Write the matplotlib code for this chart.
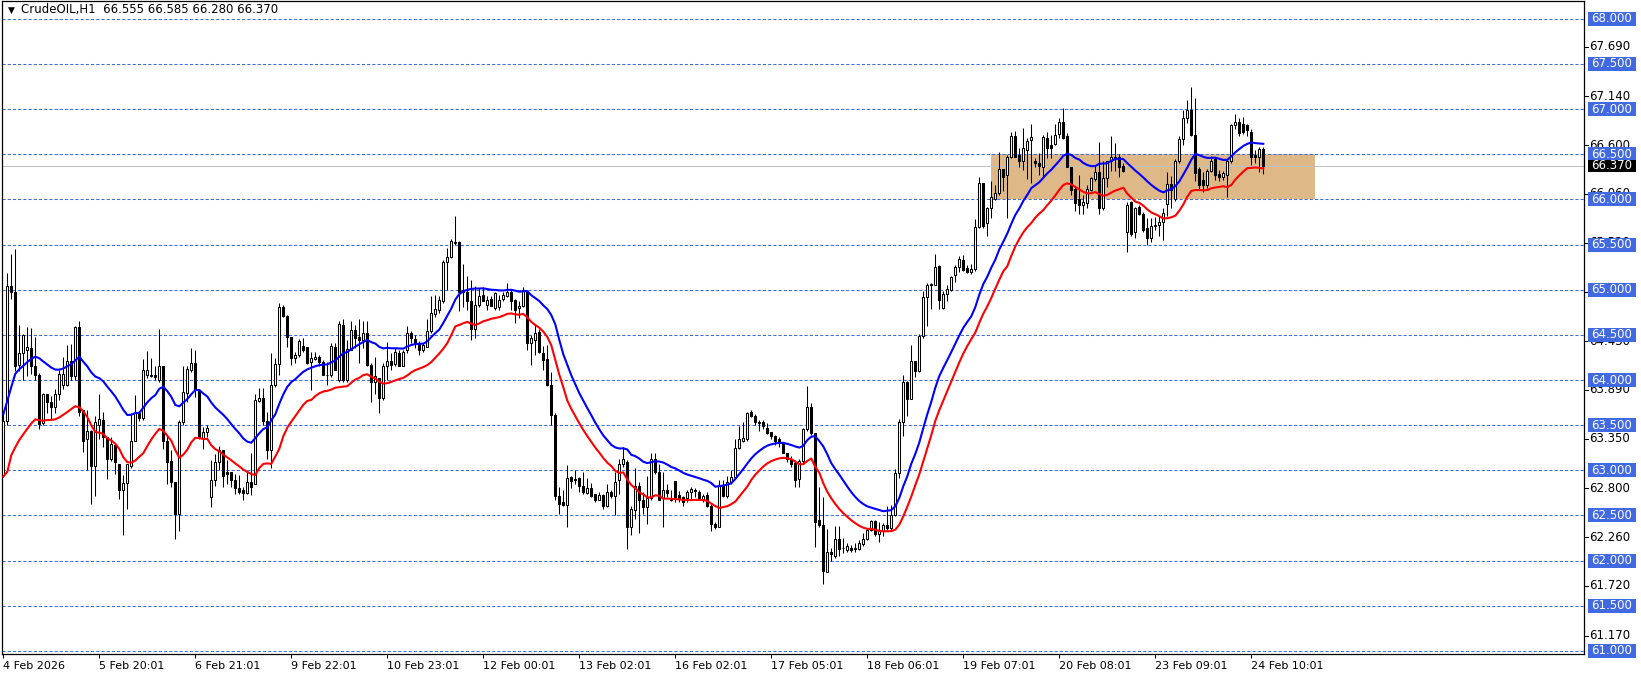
import pandas as pd
import matplotlib.pyplot as plt
import matplotlib.transforms as mtransforms
from matplotlib.patches import Rectangle
from matplotlib.lines import Line2D

# Hourly CrudeOIL candles, 4 Feb - 24 Feb 2026
opens = [62.95, 63.55, 65.04, 64.98, 64.17, 64.30, 64.33, 64.35, 64.16, 64.05, 63.52, 63.85, 63.76, 63.70, 63.85, 63.95,
         63.95, 64.21, 64.04, 64.59, 63.67, 63.35, 63.44, 63.05, 63.50, 63.56, 63.37, 63.13, 63.28, 63.07, 62.78, 62.86,
         63.05, 63.33, 63.63, 63.58, 64.05, 64.04, 64.05, 64.00, 64.15, 63.33, 63.10, 62.87, 62.52, 63.54, 63.86, 64.11,
         64.19, 63.89, 63.36, 63.42, 62.70, 62.89, 63.09, 63.23, 62.98, 62.98, 62.89, 62.80, 62.78, 62.75, 62.87, 62.85,
         63.77, 63.80, 63.55, 63.23, 63.94, 64.18, 64.81, 64.71, 64.48, 64.24, 64.28, 64.38, 64.36, 64.20, 64.23, 64.26,
         64.20, 64.06, 64.05, 64.37, 64.00, 64.61, 64.00, 64.33, 64.55, 64.48, 64.44, 64.52, 64.17, 63.98, 64.02, 63.80,
         64.15, 64.21, 64.18, 64.30, 64.16, 64.33, 64.52, 64.45, 64.41, 64.33, 64.37, 64.54, 64.73, 64.78, 64.87, 65.31,
         65.36, 65.52, 65.53, 65.00, 64.98, 64.87, 64.57, 64.83, 64.94, 64.83, 64.90, 64.80, 64.81, 64.90, 64.93, 64.98,
         64.89, 64.80, 64.82, 64.99, 64.41, 64.44, 64.53, 64.30, 64.23, 63.94, 63.61, 62.72, 62.65, 62.62, 62.93, 62.89,
         62.92, 62.83, 62.75, 62.80, 62.74, 62.67, 62.73, 62.61, 62.76, 62.72, 62.89, 63.07, 63.09, 62.37, 62.56, 62.83,
         62.67, 62.59, 62.69, 63.13, 62.98, 62.69, 62.78, 62.69, 62.88, 62.73, 62.70, 62.69, 62.76, 62.78, 62.76, 62.67,
         62.73, 62.61, 62.41, 62.37, 62.83, 62.72, 62.87, 62.93, 63.25, 63.33, 63.35, 63.65, 63.60, 63.52, 63.54, 63.47,
         63.42, 63.38, 63.35, 63.30, 63.19, 63.13, 63.08, 62.90, 63.10, 63.46, 63.70, 63.41, 62.45, 62.39, 61.87, 62.10,
         62.05, 62.24, 62.14, 62.12, 62.14, 62.13, 62.13, 62.18, 62.24, 62.34, 62.44, 62.29, 62.33, 62.39, 62.36, 62.51,
         62.97, 63.53, 63.98, 63.79, 64.21, 64.10, 64.49, 64.92, 65.05, 65.05, 65.26, 64.80, 64.95, 65.00, 65.16, 65.25,
         65.33, 65.24, 65.20, 65.23, 65.69, 66.18, 65.74, 65.90, 66.00, 66.07, 66.34, 66.27, 66.47, 66.70, 66.49, 66.43,
         66.55, 66.66, 66.43, 66.40, 66.36, 66.68, 66.60, 66.61, 66.72, 66.86, 66.70, 66.36, 66.12, 66.00, 65.94, 65.96,
         66.10, 66.23, 66.30, 65.90, 66.24, 66.42, 66.46, 66.47, 66.37, 65.64, 65.97, 65.64, 65.92, 65.84, 65.68, 65.57,
         65.70, 65.72, 65.75, 65.95, 66.17, 66.00, 66.43, 66.67, 66.90, 66.99, 66.71, 66.34, 66.21, 66.16, 66.32, 66.45,
         66.28, 66.25, 66.27, 66.43, 66.82, 66.86, 66.83, 66.82, 66.75, 66.49, 66.47, 66.555]
highs = [63.62, 65.18, 65.39, 65.45, 64.61, 64.51, 64.59, 64.58, 64.48, 64.08, 63.86, 63.85, 63.82, 63.90, 64.11, 64.25,
         64.39, 64.40, 64.60, 64.65, 63.67, 63.67, 63.45, 63.60, 63.85, 63.65, 63.37, 63.37, 63.28, 63.07, 62.95, 63.07,
         63.63, 63.83, 63.65, 64.23, 64.32, 64.24, 64.15, 64.57, 64.15, 63.40, 63.22, 62.87, 63.56, 64.15, 64.15, 64.35,
         64.33, 63.90, 63.48, 63.50, 63.11, 63.18, 63.27, 63.23, 63.11, 62.98, 62.96, 62.95, 62.81, 62.98, 63.19, 63.85,
         63.91, 63.91, 63.65, 64.30, 64.24, 64.85, 64.83, 64.72, 64.48, 64.31, 64.45, 64.47, 64.37, 64.31, 64.31, 64.28,
         64.22, 64.20, 64.41, 64.41, 64.65, 64.67, 64.44, 64.65, 64.61, 64.67, 64.65, 64.65, 64.19, 64.26, 64.02, 64.19,
         64.42, 64.30, 64.35, 64.33, 64.33, 64.60, 64.54, 64.50, 64.43, 64.41, 64.67, 64.93, 64.94, 64.93, 65.33, 65.46,
         65.56, 65.82, 65.54, 65.28, 65.15, 65.11, 65.04, 65.02, 65.03, 64.93, 64.93, 64.98, 64.94, 64.98, 65.07, 65.00,
         64.90, 64.87, 65.03, 65.00, 64.50, 64.61, 64.56, 64.38, 64.39, 64.09, 63.63, 62.81, 62.78, 63.06, 62.94, 63.00,
         62.93, 62.98, 62.91, 62.86, 62.74, 62.76, 62.74, 62.85, 62.78, 62.98, 63.13, 63.26, 63.11, 62.61, 63.02, 62.87,
         62.76, 62.94, 63.19, 63.19, 63.07, 62.98, 62.85, 62.78, 62.88, 62.77, 62.72, 62.78, 62.81, 62.80, 62.78, 62.74,
         62.76, 62.63, 62.43, 62.89, 62.89, 62.94, 63.00, 63.35, 63.49, 63.54, 63.65, 63.67, 63.62, 63.56, 63.56, 63.52,
         63.42, 63.39, 63.37, 63.30, 63.19, 63.16, 63.11, 63.13, 63.47, 63.93, 63.74, 63.41, 62.82, 62.70, 62.35, 62.14,
         62.38, 62.38, 62.25, 62.20, 62.17, 62.20, 62.23, 62.31, 62.36, 62.45, 62.45, 62.43, 62.42, 62.61, 62.62, 63.01,
         63.57, 64.05, 63.99, 64.39, 64.21, 64.51, 64.99, 65.07, 65.07, 65.40, 65.27, 64.99, 65.05, 65.15, 65.27, 65.37,
         65.38, 65.27, 65.29, 65.78, 66.25, 66.18, 65.92, 66.20, 66.16, 66.53, 66.34, 66.49, 66.75, 66.76, 66.57, 66.79,
         66.68, 66.84, 66.46, 66.51, 66.71, 66.75, 66.71, 66.84, 66.90, 67.01, 66.73, 66.36, 66.14, 66.27, 66.05, 66.16,
         66.25, 66.38, 66.64, 66.42, 66.42, 66.70, 66.62, 66.50, 66.40, 65.97, 65.98, 65.92, 65.94, 65.86, 65.79, 65.79,
         65.80, 65.82, 65.90, 66.30, 66.26, 66.45, 66.70, 66.99, 67.10, 67.25, 67.12, 66.36, 66.30, 66.34, 66.48, 66.47,
         66.33, 66.32, 66.45, 66.84, 66.95, 66.90, 66.91, 66.84, 66.78, 66.55, 66.58, 66.585]
lows = [62.93, 63.50, 64.90, 64.10, 64.10, 64.00, 64.04, 64.07, 64.00, 63.46, 63.50, 63.63, 63.57, 63.63, 63.78, 63.90,
        63.93, 64.00, 64.00, 63.60, 63.20, 63.00, 62.63, 62.72, 63.35, 63.26, 62.90, 63.10, 62.96, 62.68, 62.28, 62.57,
        63.03, 63.33, 63.55, 63.56, 64.02, 64.03, 64.00, 63.98, 63.24, 62.85, 62.81, 62.24, 62.33, 63.50, 63.76, 64.09,
        63.81, 63.35, 63.24, 63.37, 62.59, 62.83, 63.00, 62.81, 62.85, 62.81, 62.74, 62.74, 62.67, 62.74, 62.73, 62.85,
        63.76, 63.50, 63.13, 63.03, 63.92, 64.05, 64.70, 64.37, 64.17, 64.19, 64.26, 64.31, 64.18, 63.89, 64.22, 64.15,
        64.06, 63.95, 64.03, 64.11, 63.98, 63.98, 63.98, 64.33, 64.35, 64.19, 64.35, 64.15, 63.76, 63.85, 63.63, 63.78,
        64.00, 64.11, 64.16, 64.15, 64.15, 64.30, 64.41, 64.35, 64.28, 64.31, 64.37, 64.52, 64.70, 64.74, 64.85, 65.00,
        65.35, 65.50, 64.76, 64.81, 64.78, 64.44, 64.46, 64.81, 64.87, 64.78, 64.82, 64.78, 64.78, 64.87, 64.92, 64.78,
        64.63, 64.69, 64.81, 64.33, 64.17, 64.28, 64.30, 64.11, 63.93, 63.50, 62.67, 62.52, 62.60, 62.37, 62.80, 62.85,
        62.76, 62.74, 62.74, 62.70, 62.65, 62.67, 62.57, 62.59, 62.69, 62.50, 62.74, 63.04, 62.13, 62.28, 62.46, 62.31,
        62.52, 62.41, 62.67, 62.96, 62.67, 62.37, 62.70, 62.66, 62.65, 62.65, 62.61, 62.65, 62.67, 62.70, 62.67, 62.65,
        62.59, 62.33, 62.35, 62.37, 62.70, 62.69, 62.85, 62.92, 63.24, 63.31, 63.33, 63.59, 63.50, 63.44, 63.46, 63.40,
        63.35, 63.28, 63.26, 63.19, 63.09, 63.04, 62.81, 62.81, 63.07, 63.44, 63.39, 62.15, 62.37, 61.74, 61.87, 62.00,
        62.03, 62.05, 62.08, 62.10, 62.09, 62.10, 62.12, 62.16, 62.23, 62.33, 62.27, 62.21, 62.27, 62.34, 62.34, 62.49,
        62.92, 63.38, 63.60, 63.79, 64.03, 64.09, 64.47, 64.60, 64.79, 65.05, 64.79, 64.79, 64.88, 64.99, 65.09, 65.20,
        65.21, 65.18, 65.17, 65.21, 65.68, 65.68, 65.60, 65.79, 65.99, 66.05, 66.09, 65.79, 66.46, 66.47, 66.36, 66.33,
        66.23, 66.18, 66.36, 66.27, 66.25, 66.46, 66.46, 66.60, 66.68, 66.67, 66.36, 66.05, 65.87, 65.84, 65.84, 65.90,
        66.09, 66.20, 65.84, 65.88, 66.14, 66.31, 66.31, 66.25, 66.30, 65.42, 65.60, 65.57, 65.83, 65.64, 65.49, 65.53,
        65.66, 65.60, 65.55, 65.82, 65.90, 65.98, 66.40, 66.60, 66.85, 66.70, 66.20, 66.10, 66.08, 66.13, 66.30, 66.22,
        66.20, 66.22, 66.03, 66.40, 66.78, 66.70, 66.72, 66.70, 66.38, 66.40, 66.30, 66.28]
closes = [63.55, 65.04, 64.97, 64.15, 64.30, 64.50, 64.37, 64.15, 64.05, 63.51, 63.85, 63.76, 63.70, 63.85, 64.07, 64.07,
          64.21, 64.04, 64.59, 63.65, 63.33, 63.44, 63.05, 63.54, 63.57, 63.37, 63.13, 63.29, 63.09, 62.78, 62.86, 63.07,
          63.33, 63.63, 63.58, 64.11, 64.11, 64.05, 64.03, 64.15, 63.33, 63.09, 62.87, 62.52, 63.54, 63.87, 64.12, 64.19,
          63.89, 63.37, 63.42, 63.47, 62.89, 63.09, 63.23, 62.94, 62.96, 62.89, 62.80, 62.76, 62.75, 62.87, 62.82, 63.78,
          63.80, 63.55, 63.22, 63.94, 64.18, 64.81, 64.71, 64.48, 64.24, 64.28, 64.43, 64.33, 64.19, 64.24, 64.26, 64.20,
          64.06, 64.05, 64.38, 64.11, 64.62, 64.00, 64.34, 64.55, 64.46, 64.44, 64.52, 64.17, 63.98, 64.04, 63.80, 64.15,
          64.21, 64.17, 64.31, 64.16, 64.31, 64.52, 64.46, 64.40, 64.33, 64.39, 64.54, 64.74, 64.79, 64.89, 65.31, 65.36,
          65.54, 65.53, 64.98, 64.98, 64.87, 64.57, 64.83, 64.93, 64.87, 64.89, 64.82, 64.96, 64.89, 64.94, 64.97, 64.88,
          64.78, 64.82, 65.00, 64.41, 64.46, 64.52, 64.31, 64.22, 63.94, 63.61, 62.72, 62.63, 62.62, 62.92, 62.88, 62.90,
          62.83, 62.76, 62.80, 62.72, 62.67, 62.73, 62.60, 62.76, 62.72, 62.87, 63.07, 63.12, 62.37, 62.57, 62.83, 62.67,
          62.59, 62.69, 63.13, 62.98, 62.67, 62.78, 62.75, 62.67, 62.70, 62.68, 62.65, 62.76, 62.79, 62.77, 62.69, 62.72,
          62.60, 62.41, 62.37, 62.83, 62.72, 62.87, 62.93, 63.25, 63.35, 63.36, 63.64, 63.60, 63.54, 63.54, 63.49, 63.41,
          63.38, 63.33, 63.30, 63.19, 63.12, 63.07, 62.89, 63.10, 63.46, 63.70, 63.41, 62.43, 62.39, 61.88, 62.09, 62.07,
          62.24, 62.13, 62.14, 62.16, 62.12, 62.14, 62.20, 62.24, 62.34, 62.44, 62.29, 62.34, 62.39, 62.36, 62.51, 62.97,
          63.53, 63.98, 63.79, 64.21, 64.10, 64.49, 64.92, 65.05, 65.06, 65.25, 64.89, 64.95, 65.01, 65.14, 65.25, 65.34,
          65.22, 65.20, 65.23, 65.69, 66.18, 65.71, 65.90, 66.03, 66.07, 66.34, 66.25, 66.47, 66.70, 66.47, 66.43, 66.57,
          66.65, 66.69, 66.40, 66.37, 66.69, 66.57, 66.57, 66.71, 66.86, 66.68, 66.36, 66.10, 65.96, 65.94, 65.97, 66.12,
          66.24, 66.30, 65.90, 66.24, 66.42, 66.47, 66.47, 66.36, 66.31, 65.94, 65.62, 65.90, 65.84, 65.66, 65.57, 65.70,
          65.72, 65.75, 65.85, 66.17, 66.10, 66.43, 66.67, 66.90, 66.99, 66.71, 66.29, 66.16, 66.16, 66.32, 66.43, 66.27,
          66.25, 66.29, 66.43, 66.82, 66.86, 66.73, 66.75, 66.77, 66.47, 66.47, 66.56, 66.37]

date_labels = ["4 Feb 2026", "5 Feb 20:01", "6 Feb 21:01", "9 Feb 22:01", "10 Feb 23:01", "12 Feb 00:01",
               "13 Feb 02:01", "16 Feb 02:01", "17 Feb 05:01", "18 Feb 06:01", "19 Feb 07:01", "20 Feb 08:01",
               "23 Feb 09:01", "24 Feb 10:01"]
level_lines = [61.0, 61.5, 62.0, 62.5, 63.0, 63.5, 64.0, 64.5, 65.0, 65.5, 66.0, 66.5, 67.0, 67.5, 68.0]
scale_labels = [61.170, 61.720, 62.260, 62.800, 63.350, 63.890, 64.430, 64.980, 65.520, 66.060, 66.600, 67.140, 67.690]
zone_bars = (247, 328)
zone_prices = (66.0, 66.5)
last_price = 66.370

W, H = 1641, 678
fig = plt.figure(figsize=(W / 100, H / 100), dpi=100)
left, right, top, bottom = 2, 1583.5, 1, 654
ax = fig.add_axes([left / W, (H - bottom) / H, (right - left) / W, (bottom - top) / H])

px = 4.0  # pixels per bar
ppu = 90.3  # pixels per price unit
ax.set_xlim((left - 3.3) / px, (right - 3.3) / px)
ax.set_ylim(68 - (bottom - 18.8) / ppu, 68 + (18.8 - top) / ppu)

df = pd.DataFrame({'open': opens, 'high': highs, 'low': lows, 'close': closes})
x = df.index.values
blue_ma = df['high'].ewm(span=20, adjust=False).mean()
red_ma = df['low'].ewm(span=20, adjust=False).mean()

# level lines, bid line and zone
grid_blue = '#4169E1'
for lv in level_lines:
    ax.axhline(lv, color=grid_blue, lw=0.75, ls=(0, (3, 2)), zorder=1)
ax.add_patch(Rectangle((zone_bars[0], zone_prices[0]), zone_bars[1] - zone_bars[0],
                       zone_prices[1] - zone_prices[0], color='#DEB887', lw=0, zorder=0.5))
ax.axhline(last_price, color='#C0C0C0', lw=0.75, zorder=1.5)

# candles
up = df['close'] >= df['open']
ax.vlines(x, df['low'], df['high'], color='black', lw=0.75, zorder=3)
body_bottom = df[['open', 'close']].min(axis=1)
body_h = (df['close'] - df['open']).abs()
ax.bar(x[up], body_h[up], bottom=body_bottom[up], width=0.5, color='white', edgecolor='black', lw=0.75, zorder=4)
ax.bar(x[~up], body_h[~up], bottom=body_bottom[~up], width=0.5, color='black', edgecolor='black', lw=0.75, zorder=4)

ax.plot(x, blue_ma, color='#0000FF', lw=1.5, zorder=5)
ax.plot(x, red_ma, color='#FF0000', lw=1.5, zorder=5)

# axes frame and date labels
for s in ax.spines.values():
    s.set_color('black')
    s.set_linewidth(0.9)
ax.set_yticks([])
ax.set_xticks(range(0, 24 * len(date_labels), 24))
ax.set_xticklabels(date_labels, fontsize=8)
for lab in ax.get_xticklabels():
    lab.set_horizontalalignment('left')
ax.tick_params(axis='x', length=3, width=0.75, pad=2)

# right price scale: black scale values sit under the level boxes
tr = mtransforms.blended_transform_factory(fig.transFigure, ax.transData)
for v in scale_labels:
    fig.add_artist(Line2D([right / W, (right + 4) / W], [v, v], transform=tr, color='black', lw=0.75, zorder=1))
    fig.text(1589 / W, v, f"{v:.3f}", transform=tr, fontsize=8.5, va='center', ha='left', color='black', zorder=1)
for lv in level_lines:
    fig.add_artist(Rectangle((1588 / W, lv - 7 / ppu), 48 / W, 14 / ppu, transform=tr,
                             facecolor=grid_blue, lw=0, zorder=2))
    fig.text(1612 / W, lv, f"{lv:.3f}", transform=tr, fontsize=8.5, va='center', ha='center', color='white',
             zorder=3)
fig.add_artist(Rectangle((1588 / W, last_price - 6 / ppu), 48 / W, 12 / ppu, transform=tr,
                         facecolor='black', lw=0, zorder=2))
fig.text(1612 / W, last_price, f"{last_price:.3f}", transform=tr, fontsize=8.5, va='center', ha='center',
         color='white', zorder=3)

# title
ax.text(6 / (right - left), 1 - 9 / (bottom - top), "\u25bc", transform=ax.transAxes, fontsize=6.5, va='center')
ax.text(19 / (right - left), 1 - 9 / (bottom - top), "CrudeOIL,H1  66.555 66.585 66.280 66.370",
        transform=ax.transAxes, fontsize=8.5, va='center')

plt.savefig('out.png', dpi=100)
